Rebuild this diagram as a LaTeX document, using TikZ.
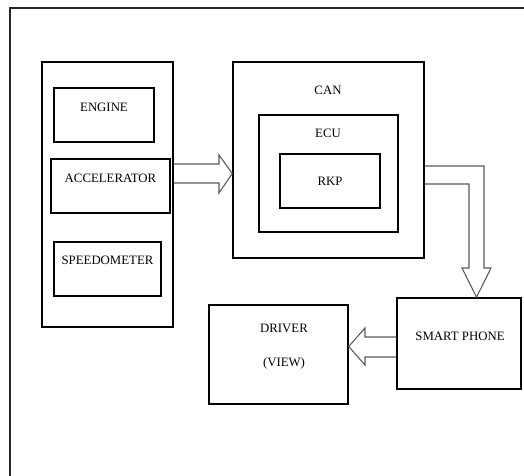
\documentclass[tikz,border=0pt]{standalone}
\usepackage{fontspec}
\setmainfont{Liberation Serif}
\begin{document}
\begin{tikzpicture}[x=0.75pt,y=-0.75pt,
  box/.style={draw=black,line width=1.1pt,inner sep=0pt},
  lbl/.style={font=\fontsize{9.6}{11}\selectfont,inner sep=0pt},
  blk/.style={draw=black!65,line width=0.8pt,line join=miter}]
\useasboundingbox (0,0) rectangle (524,475);
\clip (0,0) rectangle (524,475);
% outer frame
\draw[line width=1.1pt,black!85] (10,8) rectangle (560,520);
% sensors group
\node[box,minimum width=131*0.75pt,minimum height=265*0.75pt] (grp) at (107.5,194.5) {};
\node[box,minimum width=100*0.75pt,minimum height=54*0.75pt] (eng) at (104,115) {};
\node[box,minimum width=119*0.75pt,minimum height=54*0.75pt] (acc) at (110.5,186) {};
\node[box,minimum width=107*0.75pt,minimum height=54*0.75pt] (spd) at (107.5,269) {};
\node[lbl] (engt) at (104,107) {ENGINE};
\node[lbl] (acct) at (110.5,178) {ACCELERATOR};
\node[lbl] (spdt) at (107.5,260) {SPEEDOMETER};
% CAN / ECU / RKP
\node[box,minimum width=191*0.75pt,minimum height=196*0.75pt] (can) at (328.5,160) {};
\node[box,minimum width=139*0.75pt,minimum height=117*0.75pt] (ecu) at (328.5,173.5) {};
\node[box,minimum width=100*0.75pt,minimum height=54*0.75pt] (rkp) at (330,181) {};
\node[lbl] (cant) at (328,90) {CAN};
\node[lbl] (ecut) at (328,133) {ECU};
\node[lbl] (rkpt) at (330,181) {RKP};
% smart phone / driver
\node[box,minimum width=124*0.75pt,minimum height=91*0.75pt] (sp) at (459,343.5) {};
\node[lbl] (spt) at (460,336) {SMART PHONE};
\node[box,minimum width=139*0.75pt,minimum height=99*0.75pt] (drv) at (278.5,354.5) {};
\node[lbl] (drvt) at (284,328) {DRIVER};
\node[lbl] (viewt) at (284,363) {(VIEW)};
% block arrow grp -> can
\draw[blk] (grp.east |- 0,164) -- (219,164) -- (219,155) -- (can.west |- 0,173.5)
  -- (219,193) -- (219,183) -- (grp.east |- 0,183);
% block arrow can -> smart phone
\draw[blk] (can.east |- 0,166) -- (484,166) -- (484,268) -- (491,268)
  -- (sp.north -| 476.5,0) -- (462,268) -- (469,268) -- (469,184) -- (can.east |- 0,184);
% block arrow smart phone -> driver
\draw[blk] (sp.west |- 0,337) -- (365,337) -- (365,328) -- (drv.east |- 0,346.5)
  -- (365,365) -- (365,357) -- (sp.west |- 0,357);
\end{tikzpicture}
\end{document}
